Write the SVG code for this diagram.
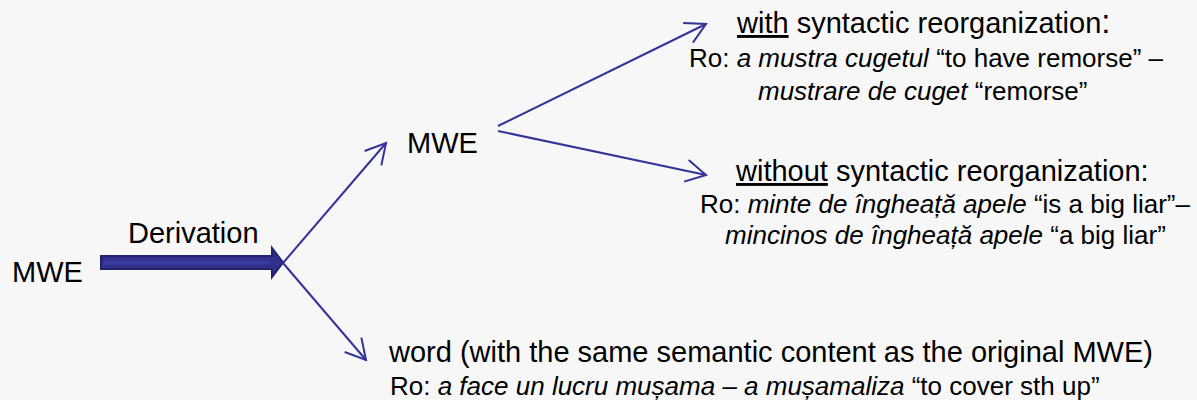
<svg xmlns="http://www.w3.org/2000/svg" width="1197" height="400" viewBox="0 0 1197 400">
  <style>
    text { font-family: "Liberation Sans", Arial, sans-serif; fill: #000; }
    .big { font-size: 29px; }
    .ro { font-size: 26px; }
    .it { font-style: italic; }
    .ul { text-decoration: underline; }
    .conn { stroke: #333399; stroke-width: 2; fill: none; }
  </style>
  <defs>
    <marker id="open" viewBox="0 0 20 22" markerWidth="20" markerHeight="22" refX="20" refY="11" markerUnits="userSpaceOnUse" orient="auto" overflow="visible">
      <path d="M0,0 L20,11 L0,22" fill="none" stroke="#333399" stroke-width="2"/>
    </marker>
  </defs>
  <rect width="1197" height="400" fill="#f7f7f7"/>

  <g id="connectors">
    <polygon id="derivation-arrow" points="101,256 272,256 272,248 283,262.5 272,277 272,269 101,269" fill="#30308c" stroke="#22226a" stroke-width="2" stroke-linejoin="miter"/>
    <line x1="104" y1="262.5" x2="270" y2="262.5" stroke="#3a3aa0" stroke-width="4"/>
    <line class="conn" x1="283" y1="263" x2="386" y2="143" marker-end="url(#open)"/>
    <line class="conn" x1="283" y1="263" x2="366" y2="360" marker-end="url(#open)"/>
    <line class="conn" x1="498" y1="126" x2="706" y2="24" marker-end="url(#open)"/>
    <line class="conn" x1="498" y1="131" x2="706" y2="175" marker-end="url(#open)"/>
  </g>

  <g id="node-mwe-source">
    <text class="big" x="12" y="282">MWE</text>
  </g>
  <g id="label-derivation">
    <text class="big" x="128" y="243">Derivation</text>
  </g>
  <g id="node-mwe-mid">
    <text class="big" x="407" y="153">MWE</text>
  </g>

  <g id="node-with">
    <text class="big" x="737" y="33"><tspan class="ul">with</tspan><tspan> syntactic reorganization</tspan><tspan font-size="33">:</tspan></text>
    <text class="ro" x="689" y="67"><tspan>Ro: </tspan><tspan class="it">a mustra cugetul</tspan><tspan> “to have remorse” –</tspan></text>
    <text class="ro" x="758" y="100"><tspan class="it">mustrare de cuget</tspan><tspan> “remorse”</tspan></text>
  </g>

  <g id="node-without">
    <text class="big" x="736" y="181"><tspan class="ul">without</tspan><tspan> syntactic reorganization:</tspan></text>
    <text class="ro" x="700" y="213"><tspan>Ro: </tspan><tspan class="it">minte de îngheață apele</tspan><tspan> “is a big liar”–</tspan></text>
    <text class="ro" x="725" y="244"><tspan class="it">mincinos de îngheață apele</tspan><tspan> “a big liar”</tspan></text>
  </g>

  <g id="node-word">
    <text class="big" x="389" y="362">word (with the same semantic content as the original MWE)</text>
    <text class="ro" x="390" y="395"><tspan>Ro: </tspan><tspan class="it">a face un lucru mușama – a mușamaliza</tspan><tspan> “to cover sth up”</tspan></text>
  </g>
</svg>
